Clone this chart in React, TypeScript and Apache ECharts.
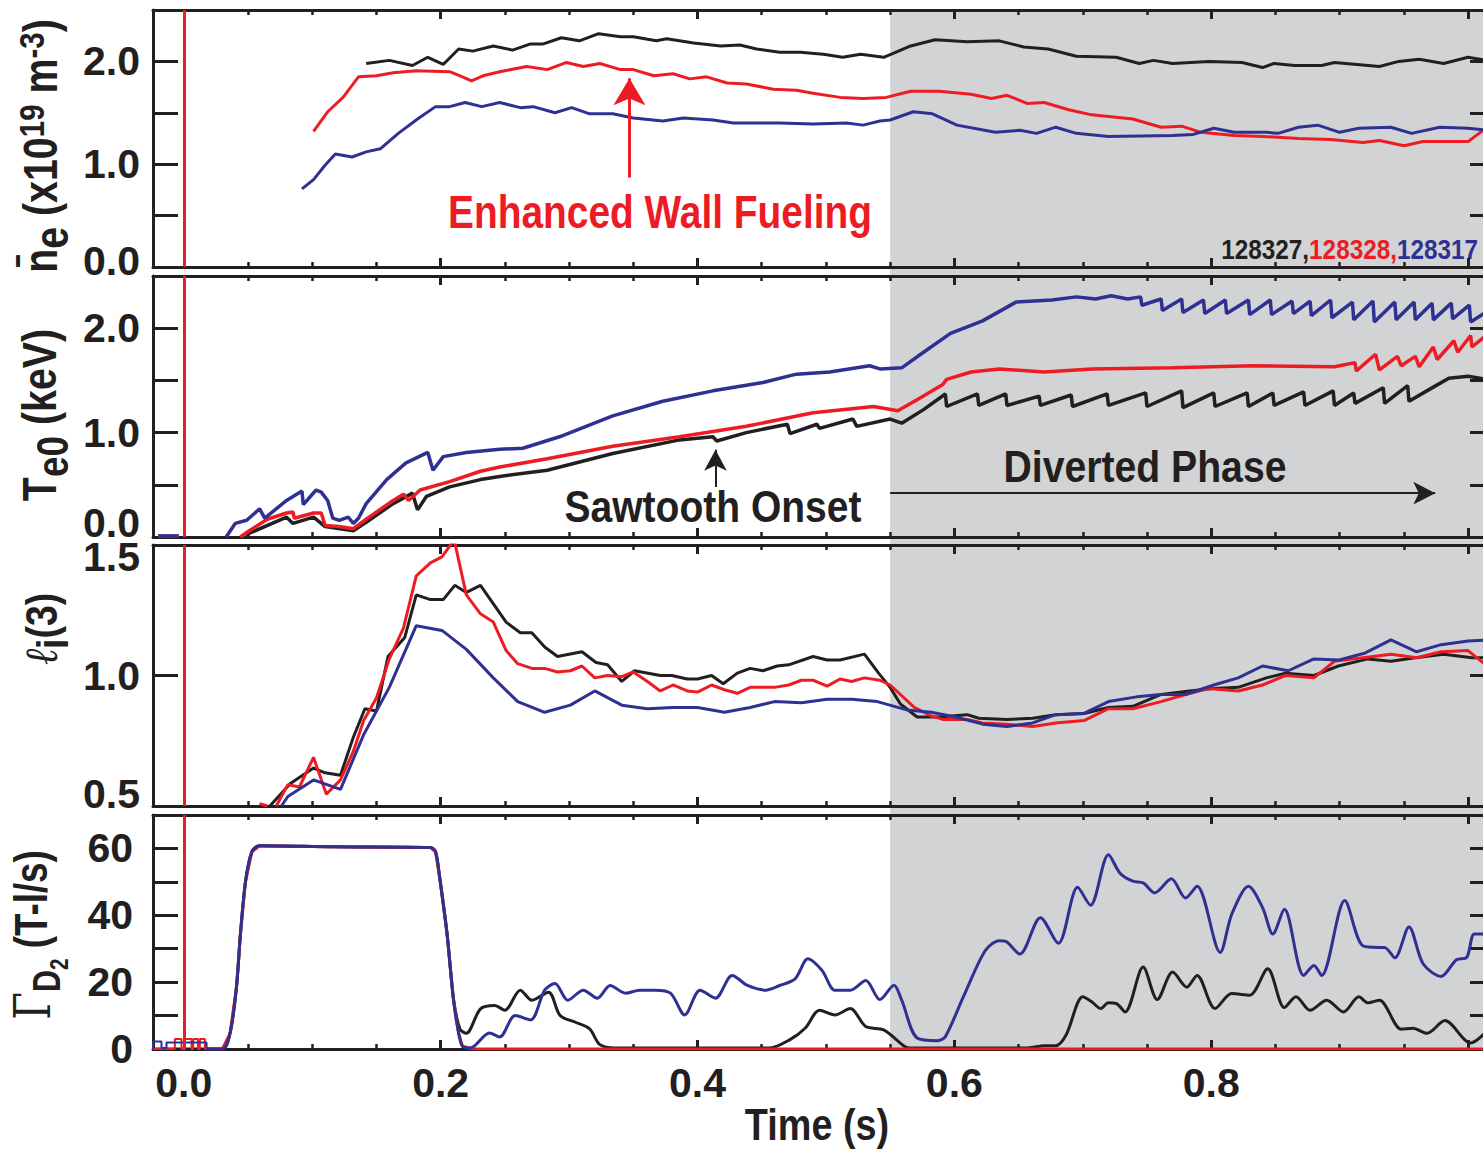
import React, { useEffect, useRef } from "react";
import * as echarts from "echarts";

// ---------------- DATA ----------------
const X_MIN = -0.024;
const X_MAX = 1.021;
const GREY_START = 0.55;
const T_ZERO_LINE = -0.002;

const xMajorTicks = [0, 0.2, 0.4, 0.6, 0.8, 1.0];
const xMinorTicks = [0.05, 0.1, 0.15, 0.25, 0.3, 0.35, 0.45, 0.5, 0.55, 0.65, 0.7, 0.75, 0.85, 0.9, 0.95];
const xTickLabels = [0, 0.2, 0.4, 0.6, 0.8];

// Panel 1: line-averaged density
const neBlack = [[0.142,1.98],[0.160,2.01],[0.178,1.96],[0.190,2.04],[0.202,1.97],[0.214,2.12],[0.225,2.10],[0.241,2.15],[0.256,2.11],[0.270,2.17],[0.280,2.17],[0.294,2.23],[0.308,2.20],[0.323,2.27],[0.340,2.24],[0.350,2.24],[0.368,2.20],[0.376,2.22],[0.397,2.18],[0.418,2.15],[0.433,2.16],[0.446,2.12],[0.464,2.09],[0.480,2.09],[0.498,2.07],[0.513,2.04],[0.527,2.07],[0.545,2.04],[0.566,2.15],[0.585,2.21],[0.610,2.19],[0.635,2.20],[0.654,2.14],[0.673,2.12],[0.695,2.05],[0.726,2.04],[0.744,1.98],[0.755,2.01],[0.770,1.98],[0.798,2.00],[0.824,1.99],[0.840,1.94],[0.849,1.98],[0.865,1.96],[0.886,1.96],[0.896,1.99],[0.931,1.95],[0.946,2.00],[0.962,2.02],[0.981,1.98],[1.000,2.04],[1.015,2.01]];
const neRed = [[0.101,1.32],[0.112,1.51],[0.124,1.65],[0.136,1.85],[0.150,1.86],[0.163,1.89],[0.181,1.91],[0.207,1.90],[0.217,1.85],[0.224,1.81],[0.233,1.86],[0.246,1.90],[0.267,1.95],[0.283,1.92],[0.298,1.99],[0.311,1.95],[0.324,1.98],[0.340,1.92],[0.350,1.92],[0.366,1.86],[0.381,1.88],[0.394,1.83],[0.407,1.85],[0.423,1.79],[0.438,1.78],[0.459,1.73],[0.477,1.72],[0.490,1.69],[0.511,1.65],[0.529,1.64],[0.547,1.65],[0.566,1.71],[0.588,1.71],[0.613,1.68],[0.629,1.64],[0.641,1.67],[0.657,1.59],[0.670,1.60],[0.689,1.53],[0.707,1.48],[0.739,1.44],[0.761,1.36],[0.777,1.37],[0.792,1.31],[0.818,1.28],[0.840,1.27],[0.868,1.25],[0.893,1.24],[0.918,1.21],[0.931,1.23],[0.950,1.18],[0.965,1.22],[0.981,1.22],[1.000,1.22],[1.015,1.36]];
const neBlue = [[0.092,0.76],[0.101,0.85],[0.110,0.99],[0.118,1.10],[0.131,1.07],[0.142,1.12],[0.153,1.15],[0.167,1.30],[0.182,1.44],[0.196,1.56],[0.207,1.56],[0.219,1.60],[0.232,1.56],[0.246,1.60],[0.262,1.55],[0.272,1.56],[0.289,1.50],[0.302,1.55],[0.316,1.49],[0.334,1.49],[0.350,1.45],[0.373,1.42],[0.389,1.45],[0.412,1.43],[0.428,1.40],[0.464,1.40],[0.490,1.39],[0.516,1.40],[0.529,1.38],[0.542,1.42],[0.550,1.43],[0.568,1.51],[0.583,1.49],[0.602,1.38],[0.632,1.31],[0.651,1.33],[0.664,1.30],[0.679,1.36],[0.695,1.30],[0.720,1.27],[0.770,1.28],[0.786,1.29],[0.802,1.35],[0.818,1.31],[0.843,1.31],[0.852,1.30],[0.868,1.36],[0.883,1.38],[0.900,1.31],[0.915,1.35],[0.940,1.36],[0.956,1.30],[0.978,1.36],[1.000,1.35],[1.015,1.33]];

// Panel 2: central electron temperature
const teBlack = [[0.048,0.02],[0.080,0.19],[0.085,0.13],[0.101,0.19],[0.110,0.10],[0.132,0.06],[0.142,0.14],[0.163,0.32],[0.178,0.42],[0.182,0.26],[0.189,0.39],[0.207,0.48],[0.231,0.55],[0.246,0.58],[0.283,0.64],[0.334,0.80],[0.386,0.93],[0.412,0.96],[0.415,0.92],[0.438,1.00],[0.470,1.08],[0.472,0.99],[0.493,1.08],[0.495,1.04],[0.521,1.13],[0.524,1.06],[0.550,1.13],[0.559,1.09],[0.576,1.22],[0.593,1.37],[0.594,1.25],[0.618,1.37],[0.619,1.26],[0.640,1.37],[0.641,1.26],[0.666,1.35],[0.667,1.26],[0.691,1.36],[0.692,1.25],[0.719,1.37],[0.720,1.26],[0.749,1.38],[0.750,1.25],[0.777,1.40],[0.778,1.24],[0.802,1.38],[0.803,1.25],[0.828,1.38],[0.829,1.25],[0.848,1.38],[0.849,1.26],[0.872,1.39],[0.873,1.26],[0.895,1.40],[0.896,1.26],[0.911,1.38],[0.912,1.28],[0.934,1.43],[0.935,1.28],[0.953,1.45],[0.954,1.30],[0.975,1.45],[0.985,1.52],[1.000,1.54],[1.015,1.51]];
const teRed = [[-0.020,0.01],[-0.004,0.01],[0.010,null],[0.044,0.0],[0.051,0.06],[0.065,0.17],[0.080,0.23],[0.085,0.24],[0.086,0.18],[0.101,0.23],[0.107,0.23],[0.110,0.11],[0.121,0.10],[0.132,0.08],[0.142,0.17],[0.163,0.35],[0.171,0.41],[0.175,0.35],[0.184,0.45],[0.207,0.53],[0.231,0.63],[0.246,0.67],[0.283,0.75],[0.334,0.87],[0.386,0.96],[0.438,1.06],[0.490,1.19],[0.537,1.25],[0.556,1.21],[0.573,1.33],[0.591,1.46],[0.594,1.51],[0.613,1.58],[0.635,1.61],[0.670,1.58],[0.707,1.61],[0.770,1.62],[0.833,1.64],[0.896,1.63],[0.912,1.67],[0.913,1.59],[0.928,1.75],[0.931,1.60],[0.945,1.73],[0.948,1.64],[0.959,1.73],[0.962,1.63],[0.973,1.82],[0.976,1.70],[0.989,1.88],[0.992,1.77],[1.002,1.93],[1.003,1.82],[1.015,1.94]];
const teBlue = [[-0.020,0.01],[-0.004,0.01],[0.010,null],[0.033,0.0],[0.040,0.13],[0.049,0.16],[0.059,0.27],[0.063,0.18],[0.080,0.35],[0.092,0.44],[0.093,0.31],[0.103,0.45],[0.107,0.43],[0.112,0.35],[0.116,0.18],[0.121,0.16],[0.128,0.19],[0.132,0.13],[0.136,0.18],[0.142,0.32],[0.158,0.55],[0.173,0.71],[0.190,0.81],[0.194,0.64],[0.202,0.77],[0.220,0.81],[0.246,0.84],[0.264,0.85],[0.295,0.97],[0.334,1.16],[0.373,1.30],[0.412,1.40],[0.451,1.48],[0.477,1.56],[0.503,1.58],[0.534,1.64],[0.542,1.61],[0.559,1.62],[0.576,1.77],[0.597,1.95],[0.622,2.07],[0.648,2.25],[0.676,2.27],[0.695,2.30],[0.710,2.28],[0.722,2.31],[0.735,2.28],[0.745,2.30],[0.746,2.22],[0.761,2.28],[0.762,2.17],[0.777,2.28],[0.778,2.15],[0.794,2.27],[0.795,2.14],[0.811,2.27],[0.812,2.14],[0.829,2.27],[0.830,2.13],[0.846,2.27],[0.847,2.13],[0.863,2.26],[0.864,2.14],[0.877,2.26],[0.878,2.12],[0.893,2.27],[0.894,2.10],[0.910,2.25],[0.911,2.08],[0.926,2.26],[0.927,2.06],[0.943,2.25],[0.944,2.08],[0.958,2.25],[0.959,2.08],[0.972,2.24],[0.973,2.08],[0.987,2.24],[0.988,2.09],[1.001,2.22],[1.002,2.06],[1.015,2.16]];

// Panel 3: internal inductance
const liBlack = [[0.067,0.45],[0.083,0.545],[0.101,0.61],[0.110,0.59],[0.122,0.58],[0.132,0.74],[0.141,0.86],[0.150,0.85],[0.159,1.08],[0.172,1.16],[0.181,1.34],[0.192,1.32],[0.202,1.32],[0.211,1.38],[0.220,1.35],[0.231,1.38],[0.251,1.225],[0.262,1.18],[0.271,1.18],[0.281,1.12],[0.291,1.08],[0.310,1.10],[0.321,1.055],[0.330,1.045],[0.341,0.975],[0.351,1.02],[0.371,1.00],[0.380,1.00],[0.392,0.985],[0.400,0.985],[0.411,1.00],[0.420,0.965],[0.431,1.01],[0.441,1.03],[0.451,1.02],[0.462,1.04],[0.471,1.045],[0.490,1.08],[0.501,1.065],[0.511,1.065],[0.530,1.09],[0.541,1.01],[0.550,0.95],[0.558,0.88],[0.571,0.825],[0.588,0.825],[0.610,0.835],[0.619,0.82],[0.641,0.815],[0.661,0.82],[0.679,0.835],[0.701,0.84],[0.720,0.865],[0.739,0.87],[0.761,0.92],[0.783,0.935],[0.802,0.945],[0.821,0.95],[0.843,0.99],[0.858,1.01],[0.880,1.00],[0.899,1.04],[0.922,1.07],[0.940,1.06],[0.959,1.075],[0.981,1.09],[1.003,1.075],[1.015,1.075]];
const liRed = [[0.059,0.46],[0.065,0.45],[0.066,null],[0.072,0.45],[0.081,0.54],[0.090,0.53],[0.101,0.655],[0.111,0.50],[0.122,0.56],[0.132,0.68],[0.140,0.81],[0.150,0.905],[0.160,1.07],[0.171,1.20],[0.181,1.42],[0.192,1.475],[0.201,1.50],[0.209,1.56],[0.211,1.56],[0.220,1.34],[0.231,1.26],[0.241,1.225],[0.251,1.105],[0.260,1.05],[0.271,1.03],[0.281,1.03],[0.291,1.015],[0.301,1.02],[0.310,1.04],[0.320,0.99],[0.330,1.00],[0.341,0.995],[0.350,1.015],[0.361,0.975],[0.371,0.935],[0.381,0.96],[0.392,0.935],[0.400,0.93],[0.411,0.96],[0.421,0.94],[0.431,0.925],[0.441,0.95],[0.460,0.95],[0.471,0.96],[0.481,0.98],[0.490,0.98],[0.501,0.955],[0.511,0.985],[0.520,0.975],[0.530,0.99],[0.542,0.98],[0.550,0.96],[0.558,0.92],[0.569,0.865],[0.582,0.83],[0.591,0.815],[0.610,0.815],[0.622,0.80],[0.641,0.795],[0.661,0.785],[0.679,0.80],[0.701,0.81],[0.720,0.86],[0.739,0.86],[0.761,0.89],[0.780,0.92],[0.798,0.945],[0.821,0.935],[0.840,0.96],[0.858,1.00],[0.880,0.99],[0.896,1.06],[0.918,1.075],[0.940,1.09],[0.960,1.075],[0.979,1.10],[1.000,1.105],[1.015,1.04]];
const liBlue = [[0.076,0.45],[0.081,0.49],[0.101,0.56],[0.122,0.52],[0.140,0.75],[0.160,0.95],[0.181,1.21],[0.201,1.19],[0.220,1.11],[0.241,0.99],[0.260,0.89],[0.281,0.845],[0.301,0.875],[0.320,0.935],[0.341,0.875],[0.361,0.86],[0.381,0.865],[0.400,0.865],[0.421,0.845],[0.441,0.865],[0.460,0.89],[0.481,0.885],[0.501,0.90],[0.520,0.90],[0.540,0.89],[0.563,0.855],[0.582,0.845],[0.601,0.825],[0.622,0.795],[0.641,0.785],[0.661,0.80],[0.679,0.835],[0.701,0.84],[0.720,0.89],[0.742,0.91],[0.761,0.92],[0.780,0.92],[0.802,0.96],[0.821,0.99],[0.840,1.04],[0.860,1.02],[0.880,1.07],[0.899,1.065],[0.920,1.095],[0.940,1.15],[0.960,1.10],[0.979,1.13],[1.000,1.145],[1.015,1.15]];

// Panel 4: D2 gas puff rate
const gdBlack = [[-0.024,0],[0.030,0],[0.036,4.7],[0.041,18.5],[0.044,34],[0.048,50],[0.053,59],[0.059,60.8],[0.116,60.5],[0.192,60.3],[0.196,59],[0.199,52],[0.205,34.4],[0.210,15],[0.215,6],[0.220,4.7],[0.231,12],[0.242,13],[0.250,11.6],[0.262,17.6],[0.271,14.6],[0.284,17],[0.293,10],[0.305,8],[0.316,6],[0.324,1.3],[0.336,0.3],[0.456,0.3],[0.472,2.8],[0.484,6.3],[0.495,11.6],[0.507,10.2],[0.519,12.1],[0.531,6.7],[0.545,5.7],[0.561,0.8],[0.565,0.3],[0.657,0.3],[0.670,1.0],[0.679,1.0],[0.687,4.2],[0.700,15.6],[0.707,14.1],[0.714,12.1],[0.720,13.8],[0.726,13.6],[0.733,11.1],[0.747,24.5],[0.758,14.8],[0.770,23.0],[0.781,18.5],[0.789,22.0],[0.803,12.1],[0.816,16.6],[0.830,16.1],[0.844,24.0],[0.857,12.4],[0.866,15.6],[0.877,11.6],[0.890,14.6],[0.903,11.1],[0.915,15.6],[0.922,13.8],[0.931,14.6],[0.948,5.9],[0.957,6.2],[0.968,4.7],[0.982,8.5],[1.002,1.8],[1.015,5.5]];
const gdRed = [[0.018,0],[0.030,0],[0.036,4.7],[0.041,18.5],[0.044,34],[0.048,50],[0.053,59],[0.059,60.8],[0.116,60.5],[0.192,60.3],[0.196,59],[0.199,52],[0.205,34.4],[0.210,14.6],[0.214,4.7],[0.217,0.8],[0.225,0],[1.021,0]];
const gdBlue = [[0.018,0],[0.030,0],[0.036,4.7],[0.041,18.5],[0.044,34],[0.048,50],[0.053,59],[0.059,60.8],[0.116,60.5],[0.192,60.3],[0.196,59],[0.199,52],[0.205,34.4],[0.210,14.6],[0.214,4.7],[0.217,0.8],[0.223,0.3],[0.238,4.8],[0.246,3.6],[0.258,10],[0.270,8.7],[0.281,17.6],[0.289,19.6],[0.299,14.6],[0.311,17.6],[0.322,15.2],[0.332,19],[0.344,16.7],[0.355,17.6],[0.367,17.6],[0.379,16.7],[0.390,10.2],[0.402,17.6],[0.414,15.2],[0.427,22],[0.439,19],[0.453,17.6],[0.464,19],[0.476,21],[0.486,27],[0.497,23.5],[0.507,17.6],[0.519,17.6],[0.531,20.5],[0.542,14.8],[0.553,19.1],[0.559,14.6],[0.571,3.3],[0.587,2.5],[0.593,3.7],[0.607,15.6],[0.624,29.4],[0.635,32.4],[0.640,32.2],[0.651,28.4],[0.667,39.3],[0.681,31.6],[0.696,48.4],[0.706,43.0],[0.720,58.1],[0.729,52.6],[0.739,50.2],[0.747,49.7],[0.756,46.7],[0.769,50.9],[0.780,45.2],[0.789,48.7],[0.807,28.9],[0.816,40.3],[0.829,48.7],[0.840,42.3],[0.848,34.4],[0.857,41.8],[0.872,22.0],[0.880,25.0],[0.886,22.0],[0.904,44.4],[0.918,30.9],[0.931,30.4],[0.935,30.4],[0.943,27.3],[0.954,36.5],[0.965,25.5],[0.979,21.7],[0.991,26.7],[0.999,27.4],[1.005,34.4],[1.015,34.4]];
const gdBluePre = [[-0.024,0],[-0.024,2.25],[-0.0174,2.25],[-0.0174,0.3],[-0.0135,0.3],[-0.0135,1.96],[0.0177,1.96],[0.0177,0]];
const gdRedPre = [[-0.024,0],[-0.007,0],[-0.007,3],[-0.0018,3],[-0.0018,0],[0.0008,0],[0.0008,3],[0.006,3],[0.006,0],[0.0073,0],[0.0073,3],[0.011,3],[0.011,0],[0.0125,0],[0.0125,3],[0.0164,3],[0.0164,0],[0.018,0]];

// ---------------- STYLE ----------------
const BLACK = "#231f20";
const RED = "#ed1c24";
const BLUE = "#2e3192";
const GREY = "#d1d3d4";
const SANS = "'Liberation Sans','Arial','Helvetica',sans-serif";
const SERIF = "'DejaVu Serif','Liberation Serif',serif";

const panels = [
  { top: 10, height: 257, min: 0, max: 2.5, ticks: [0.5, 1, 1.5, 2], labels: [0, 1, 2], digits: 1, lift: { 0: 12 } as Record<number, number>, margin: 13, lw: 3 },
  { top: 276, height: 261, min: 0, max: 2.5, ticks: [0.5, 1, 1.5, 2], labels: [0, 1, 2], digits: 1, lift: { 0: 28 } as Record<number, number>, margin: 13, lw: 3.5 },
  { top: 545, height: 261, min: 0.45, max: 1.55, ticks: [1.0], labels: [0.5, 1, 1.5], digits: 1, lift: {} as Record<number, number>, margin: 13, lw: 3 },
  { top: 815, height: 234, min: 0, max: 70, ticks: [10, 20, 30, 40, 50, 60], labels: [0, 20, 40, 60], digits: 0, lift: {} as Record<number, number>, margin: 20, lw: 3 },
];
const GRID_LEFT = 153;
const GRID_WIDTH = 1342;

function buildOption() {
  const grid = panels.map((p) => ({ left: GRID_LEFT, width: GRID_WIDTH, top: p.top, height: p.height, outerBoundsMode: "none", containLabel: false }));
  const xAxis: any[] = [];
  const yAxis: any[] = [];
  const labelStyle = { fontFamily: SANS, fontWeight: "bold", fontSize: 41, color: BLACK };
  panels.forEach((p, i) => {
    const base = { type: "value", gridIndex: i, min: X_MIN, max: X_MAX, splitLine: { show: false } };
    xAxis.push({ ...base, position: "bottom", axisLine: { show: true, onZero: false, lineStyle: { color: BLACK, width: 3 } },
      axisTick: { show: true, inside: true, length: 9, lineStyle: { color: BLACK, width: 3 }, customValues: xMajorTicks },
      axisLabel: { show: i === 3, customValues: xTickLabels, margin: 13, formatter: (v: number) => v.toFixed(1), ...labelStyle } });
    xAxis.push({ ...base, position: "bottom", axisLine: { show: false, onZero: false },
      axisTick: { show: true, inside: true, length: 5, lineStyle: { color: BLACK, width: 2.5 }, customValues: xMinorTicks },
      axisLabel: { show: false } });
    xAxis.push({ ...base, position: "top", axisLine: { show: true, onZero: false, lineStyle: { color: BLACK, width: 3 } },
      axisTick: { show: true, inside: true, length: 9, lineStyle: { color: BLACK, width: 3 }, customValues: xMajorTicks },
      axisLabel: { show: false } });
    xAxis.push({ ...base, position: "top", axisLine: { show: false, onZero: false },
      axisTick: { show: true, inside: true, length: 5, lineStyle: { color: BLACK, width: 2.5 }, customValues: xMinorTicks },
      axisLabel: { show: false } });

    const ybase = { type: "value", gridIndex: i, min: p.min, max: p.max, splitLine: { show: false } };
    yAxis.push({ ...ybase, position: "left", axisLine: { show: true, onZero: false, lineStyle: { color: BLACK, width: 3 } },
      axisTick: { show: true, inside: true, length: 25, lineStyle: { color: BLACK, width: 3 }, customValues: p.ticks },
      axisLabel: { show: true, customValues: p.labels, margin: p.margin, ...labelStyle,
        formatter: (v: number) => {
          const key = Math.round(v * 100) / 100;
          const s = v.toFixed(p.digits);
          return p.lift[key] ? `{lift${p.lift[key]}|${s}}` : s;
        },
        rich: { lift12: { ...labelStyle, padding: [0, 0, 12, 0] }, lift28: { ...labelStyle, padding: [0, 0, 28, 0] } } } });
    yAxis.push({ ...ybase, position: "right", axisLine: { show: true, onZero: false, lineStyle: { color: BLACK, width: 3 } },
      axisTick: { show: true, inside: true, length: 25, lineStyle: { color: BLACK, width: 3 }, customValues: p.ticks },
      axisLabel: { show: false } });
  });

  const line = (data: any[], color: string, panel: number, extra: any = {}) => ({
    type: "line", data, xAxisIndex: panel * 4, yAxisIndex: panel * 2, showSymbol: false, symbol: "none",
    lineStyle: { color, width: panels[panel].lw }, itemStyle: { color }, silent: true, animation: false, connectNulls: false, clip: true,
    emphasis: { disabled: true }, ...extra,
  });
  const zeroLine = { xAxis: T_ZERO_LINE, lineStyle: { color: RED, width: 3, type: "solid" } };
  const ml = (items: any[]) => ({ silent: true, animation: false, symbol: ["none", "none"], label: { show: false }, emphasis: { disabled: true }, data: items });
  const arrow = (from: number[], to: number[], color: string, width: number, size: number[]) => [
    { coord: from, symbol: "none", lineStyle: { color, width, type: "solid" } },
    { coord: to, symbol: "arrow", symbolSize: size, itemStyle: { color } },
  ];

  const series = [
    line(neBlack, BLACK, 0, { markLine: ml([zeroLine, arrow([0.347, 0.87], [0.347, 1.835], RED, 3, [24, 27])]) }),
    line(neRed, RED, 0),
    line(neBlue, BLUE, 0),
    line(teBlack, BLACK, 1, { markLine: ml([zeroLine, arrow([0.414, 0.48], [0.414, 0.835], BLACK, 2, [17, 21]), arrow([0.55, 0.42], [0.9745, 0.42], BLACK, 2, [17, 22])]) }),
    line(teRed, RED, 1),
    line(teBlue, BLUE, 1),
    line(liBlack, BLACK, 2, { markLine: ml([zeroLine]) }),
    line(liRed, RED, 2),
    line(liBlue, BLUE, 2),
    line(gdBlack, BLACK, 3, { smooth: 0.3, markLine: ml([zeroLine]) }),
    line(gdRedPre, RED, 3, { lineStyle: { color: RED, width: 2 } }),
    line(gdBluePre, BLUE, 3, { lineStyle: { color: BLUE, width: 2 } }),
    line(gdRed, RED, 3),
    line(gdBlue, BLUE, 3, { smooth: 0.3 }),
  ];

  const T = (f: number, w: string, fam: string, pad: number, color = BLACK) => ({ fontSize: f, fontWeight: w, fontFamily: fam, fill: color, color, verticalAlign: "top", padding: [pad, 0, 0, 0] });
  const txt = (text: string, x: number, y: number, size: number, sx: number, color = BLACK, weight = "bold", align = "center") => ({
    type: "text", x, y, scaleX: sx, silent: true,
    style: { text, font: `${weight} ${size}px ${SANS}`, fill: color, align, verticalAlign: "middle" },
  });

  const graphic: any[] = [
    { id: "grey", type: "rect", z: -10, silent: true, shape: { x: 0, y: 0, width: 0, height: 0 }, style: { fill: GREY } },
    // Y titles (rotated)
    { type: "text", x: 44, y: 146, rotation: Math.PI / 2, scaleX: 0.82, silent: true,
      style: { text: "{b|n\u0304}{e|e}{b| (x10}{p|19}{b| m}{p|-3}{b|)}", align: "center", verticalAlign: "middle",
        rich: { b: T(48, "bold", SANS, 3), e: T(48, "bold", SANS, 14), p: T(36, "bold", SANS, 0) } } },
    { type: "text", x: 44, y: 415, rotation: Math.PI / 2, scaleX: 0.82, silent: true,
      style: { text: "{b|T}{s|e0}{b| (keV)}", align: "center", verticalAlign: "middle",
        rich: { b: T(48, "bold", SANS, 3), s: T(45, "bold", SANS, 18) } } },
    { type: "text", x: 44, y: 629, rotation: Math.PI / 2, scaleX: 0.85, silent: true,
      style: { text: "{l|\u2113}{i|i}{b|(3)}", align: "center", verticalAlign: "middle",
        rich: { l: { ...T(46, "normal", SERIF, 5), fontStyle: "italic" }, i: T(44, "bold", SANS, 18), b: T(44, "bold", SANS, 7) } } },
    { type: "text", x: 40, y: 935, rotation: Math.PI / 2, scaleX: 0.8, silent: true,
      style: { text: "{g|\u0393}{d|D}{t|2}{b| (T-l/s)}", align: "center", verticalAlign: "middle",
        rich: { g: T(50, "normal", SERIF, 0), d: T(38, "bold", SANS, 20), t: T(26, "bold", SANS, 38), b: T(46, "bold", SANS, 0) } } },
    // X title
    txt("Time (s)", 817, 1125, 44, 0.86),
    // Annotations
    txt("Enhanced Wall Fueling", 660, 212, 46, 0.845, RED),
    txt("Sawtooth Onset", 713, 507, 44, 0.887),
    txt("Diverted Phase", 1145, 467, 44, 0.89),
    { type: "text", x: 1478, y: 250, scaleX: 0.9, silent: true,
      style: { text: "{k|128327,}{r|128328,}{u|128317}", align: "right", verticalAlign: "middle",
        rich: { k: T(27, "bold", SANS, 0, BLACK), r: T(27, "bold", SANS, 0, RED), u: T(27, "bold", SANS, 0, BLUE) } } },
  ];

  return { animation: false, backgroundColor: "#ffffff", grid, xAxis, yAxis, series, graphic };
}

export default function App() {
  const ref = useRef<HTMLDivElement>(null);
  useEffect(() => {
    const chart = echarts.init(ref.current!, undefined, { renderer: "svg" });
    chart.setOption(buildOption() as any);
    const x0 = chart.convertToPixel({ xAxisIndex: 0 }, GREY_START) as number;
    const x1 = chart.convertToPixel({ xAxisIndex: 0 }, X_MAX) as number;
    const y0 = chart.convertToPixel({ yAxisIndex: 0 }, panels[0].max) as number;
    const y1 = chart.convertToPixel({ yAxisIndex: 6 }, panels[3].min) as number;
    chart.setOption({ graphic: [{ id: "grey", shape: { x: x0, y: y0, width: x1 - x0, height: y1 - y0 } }] } as any);
    return () => chart.dispose();
  }, []);
  return <div ref={ref} style={{ position: "fixed", left: 0, top: 0, width: 1483, height: 1149, background: "#fff" }} />;
}
